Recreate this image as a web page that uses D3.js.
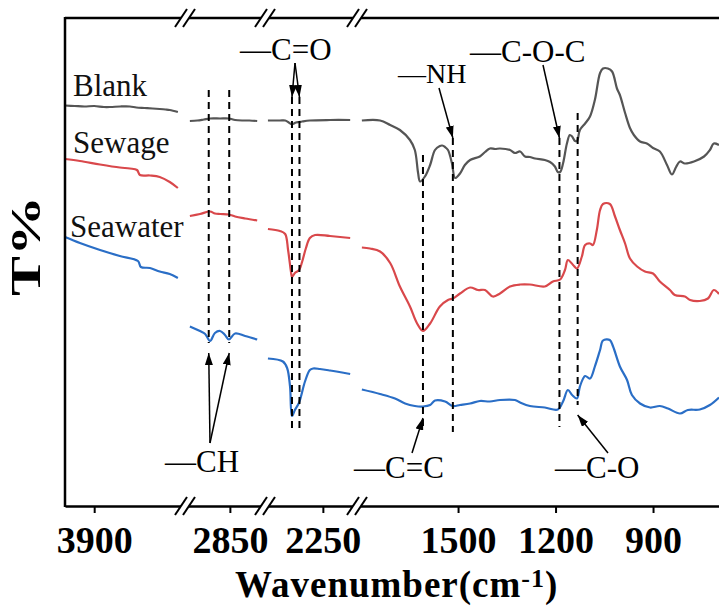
<!DOCTYPE html>
<html>
<head>
<meta charset="utf-8">
<script src="https://cdn.jsdelivr.net/npm/d3@7"></script>
<style>
body { margin: 0; background: #fff; }
svg { display: block; font-family: "Liberation Serif", "Times New Roman", serif; }
</style>
</head>
<body>
<svg id="chart" width="719" height="607"></svg>
<script>
// broken wavenumber axis (cm-1), one domain per piece
const segments = [[3990, 3620], [2988, 2742], [2428, 2145], [1811, 697]];
const tickValues = [3900, 2850, 2250, 1500, 1200, 900];
const seriesNames = ['Blank', 'Sewage', 'Seawater'];

// [wavenumber, T%] (curves are offset)
const blank = [
  [3990,80.1],[3960,80.0],[3930,79.9],[3900,80.0],[3870,79.8],[3850,79.8],[3820,79.9],[3790,79.9],[3770,79.7],[3745,79.6],[3720,79.5],[3698,79.4],[3680,79.3],[3667,79.2],[3642,78.8],
  [2973,77.0],[2950,77.1],[2930,77.3],[2911,77.5],[2880,77.5],[2853,77.5],[2834,77.2],[2810,77.1],[2790,77.1],[2766,77.0],
  [2419,77.1],[2382,77.1],[2366,77.1],[2357,76.8],[2348,76.4],[2342,76.4],[2333,76.7],[2323,76.8],[2314,76.9],[2290,77.1],[2228,77.2],[2166,77.2],
  [1796,77.1],[1740,77.1],[1709,76.2],[1679,75.2],[1648,73.2],[1633,71.2],[1623,66.6],[1617,64.9],[1602,65.9],[1586,68.2],[1571,71.2],[1556,72.0],[1549,72.1],[1540,71.8],[1531,71.2],[1519,68.6],[1509,65.6],[1494,66.5],[1479,68.2],[1463,69.2],[1433,69.9],[1417,70.8],[1402,71.5],[1386,71.4],[1371,71.5],[1340,71.2],[1325,70.6],[1309,70.9],[1294,69.9],[1279,69.8],[1263,69.5],[1233,69.2],[1217,68.8],[1202,67.9],[1193,66.8],[1186,66.8],[1177,68.5],[1165,72.5],[1156,74.2],[1149,73.9],[1140,73.0],[1134,73.0],[1125,75.2],[1109,76.5],[1094,77.9],[1079,81.2],[1063,86.6],[1054,87.5],[1039,87.5],[1026,86.9],[1011,83.5],[1002,82.2],[986,78.6],[971,75.6],[959,74.2],[940,72.9],[919,72.5],[900,71.6],[879,70.9],[857,68.2],[842,66.3],[829,67.8],[817,68.9],[802,68.5],[774,68.9],[743,69.9],[725,71.2],[713,72.5],[697,72.2]
];
const sewage = [
  [3990,69.4],[3944,69.0],[3882,68.3],[3821,67.7],[3790,67.5],[3768,67.2],[3759,66.2],[3728,66.1],[3698,65.8],[3667,64.8],[3642,63.6],
  [2973,58.0],[2942,58.4],[2911,58.9],[2896,58.5],[2880,58.4],[2853,58.3],[2834,57.9],[2803,57.5],[2766,57.1],
  [2419,55.4],[2382,55.0],[2366,54.4],[2357,51.2],[2348,46.8],[2345,45.8],[2336,46.6],[2323,47.2],[2314,48.8],[2302,51.6],[2290,53.6],[2274,54.2],[2228,54.0],[2166,53.6],
  [1796,51.7],[1771,51.5],[1740,50.9],[1709,48.6],[1679,43.9],[1648,39.9],[1626,36.5],[1608,35.0],[1586,36.5],[1556,39.9],[1531,41.2],[1516,41.5],[1494,42.5],[1463,43.7],[1439,43.2],[1417,43.2],[1393,41.9],[1371,42.5],[1340,43.9],[1309,44.3],[1279,44.3],[1233,43.9],[1208,44.9],[1186,45.3],[1171,47.2],[1162,49.2],[1146,48.2],[1134,47.5],[1119,49.9],[1109,52.2],[1094,52.5],[1085,52.2],[1073,55.2],[1063,59.2],[1054,60.4],[1033,60.4],[1017,57.9],[1002,55.2],[986,52.5],[971,49.5],[949,47.9],[925,46.9],[900,46.5],[879,44.9],[848,43.2],[833,42.2],[802,41.9],[786,41.2],[756,41.0],[731,41.5],[713,43.2],[697,42.4]
];
const seawater = [
  [3990,53.8],[3944,52.6],[3882,51.2],[3821,50.0],[3765,49.0],[3756,47.8],[3728,47.6],[3698,46.9],[3667,46.4],[3642,45.6],
  [2973,35.9],[2942,35.0],[2926,34.4],[2911,33.0],[2896,34.6],[2880,35.0],[2865,34.2],[2853,33.3],[2834,34.5],[2803,34.0],[2766,33.3],
  [2419,29.5],[2373,28.9],[2360,27.6],[2351,23.9],[2345,18.0],[2336,19.2],[2323,20.7],[2305,24.9],[2290,27.2],[2280,27.5],[2259,27.4],[2228,27.1],[2166,26.4],
  [1796,23.3],[1740,22.4],[1694,21.5],[1663,20.5],[1633,20.0],[1608,19.9],[1586,20.2],[1571,21.1],[1540,20.9],[1516,20.0],[1494,20.2],[1463,20.5],[1433,21.0],[1402,20.9],[1371,21.2],[1325,21.2],[1309,20.7],[1279,20.0],[1233,19.7],[1193,19.3],[1177,20.9],[1162,23.2],[1149,22.2],[1134,21.5],[1125,23.9],[1109,26.0],[1094,25.5],[1079,27.9],[1063,31.2],[1054,33.1],[1033,33.2],[1023,31.9],[1002,27.9],[980,25.2],[965,22.2],[940,20.5],[909,19.7],[879,20.0],[854,19.5],[817,18.5],[793,19.2],[756,19.3],[725,20.2],[697,21.7]
];

// marked bands: wavenumbers and dashed-line span in T%
const bandNames = ['CH', 'C=O', 'C=C', 'NH', 'C-O-C', 'C-O'];
const bandWn = [[2915, 2852], [2345, 2322], [1608], [1516], [1188], [1132]];
const bandSpan = [[83.2, 32.6], [81.8, 15.0], [70.2, 15.8], [73.6, 14.8], [73.6, 15.8], [78.6, 20.2]];

// layout
const W = 719, H = 607;
const plotTop = 18, plotBottom = 506, plotLeft = 65;
const cuts = [65, 185, 265, 357, 719];
const colors = ['#555555', '#d9484b', '#2a6ec6'];
const labelPos = [[73, 96], [73, 153], [70, 237]];
const notes = {
  'CH':    { x: 165, y: 472, size: 31, from: [210, 443], tip: 30.6 },
  'C=O':   { x: 240, y: 60,  size: 31, from: [295, 63],  tip: 81.8 },
  'C=C':   { x: 354, y: 478, size: 31, from: [412, 453], tip: 17.6 },
  'NH':    { x: 398, y: 83,  size: 28, from: [439, 88],  tip: 73.6 },
  'C-O-C': { x: 470, y: 62,  size: 31, from: [543, 65],  tip: 73.6 },
  'C-O':   { x: 555, y: 478, size: 31, from: [608, 453], tip: 18.2 }
};

const svg = d3.select('#chart');

const xs = segments.map((d, i) => d3.scaleLinear().domain(d).range([cuts[i], cuts[i + 1]]));
const segOf = w => segments.findIndex(d => w <= d[0] && w >= d[1]);
const x = w => xs[segOf(w)](w);
const y = d3.scaleLinear().domain([0, 97.6]).range([plotBottom, plotTop]);

// arrowhead
svg.append('defs').append('marker')
  .attr('id', 'head')
  .attr('markerUnits', 'userSpaceOnUse')
  .attr('markerWidth', 12).attr('markerHeight', 8)
  .attr('refX', 12).attr('refY', 4)
  .attr('orient', 'auto')
  .append('path').attr('d', 'M0,0L12,4L0,8Z').attr('fill', '#000');

// spectra, one path per axis piece
const line = d3.line()
  .x(d => x(d[0]))
  .y(d => y(d[1]))
  .curve(d3.curveCatmullRom.alpha(0.5));

[blank, sewage, seawater].forEach((data, k) => {
  const pieces = d3.groups(data, d => segOf(d[0]));
  pieces.forEach(p => {
    svg.append('path')
      .attr('d', line(p[1]))
      .attr('fill', 'none')
      .attr('stroke', colors[k])
      .attr('stroke-width', 2.2)
      .attr('stroke-linejoin', 'round');
  });
});

// series names
seriesNames.forEach((n, k) => {
  svg.append('text')
    .attr('x', labelPos[k][0]).attr('y', labelPos[k][1])
    .attr('font-size', 31)
    .attr('fill', '#111')
    .text(n);
});

// dashed band lines
bandNames.forEach((b, i) => {
  bandWn[i].forEach(w => {
    svg.append('line')
      .attr('x1', x(w)).attr('x2', x(w))
      .attr('y1', y(bandSpan[i][0])).attr('y2', y(bandSpan[i][1]))
      .attr('stroke', '#000')
      .attr('stroke-width', 2)
      .attr('stroke-dasharray', '7,5');
  });
});

// annotations
bandNames.forEach((b, i) => {
  const n = notes[b];
  svg.append('text')
    .attr('x', n.x).attr('y', n.y)
    .attr('font-size', n.size)
    .text('\u2014' + b);
  bandWn[i].forEach(w => {
    svg.append('line')
      .attr('x1', n.from[0]).attr('y1', n.from[1])
      .attr('x2', x(w)).attr('y2', y(n.tip))
      .attr('stroke', '#000')
      .attr('stroke-width', 1.5)
      .attr('marker-end', 'url(#head)');
  });
});

// frame
svg.append('line').attr('x1', plotLeft).attr('x2', plotLeft).attr('y1', plotTop - 1).attr('y2', plotBottom + 1)
  .attr('stroke', '#000').attr('stroke-width', 2.5);
svg.append('line').attr('x1', plotLeft).attr('x2', W).attr('y1', plotTop).attr('y2', plotTop)
  .attr('stroke', '#000').attr('stroke-width', 2.5);

// bottom axis pieces
xs.forEach((s, i) => {
  const g = svg.append('g')
    .attr('transform', `translate(0,${plotBottom})`)
    .call(d3.axisBottom(s)
      .tickValues(tickValues.filter(t => segOf(t) === i))
      .tickFormat(d3.format('d'))
      .tickSize(7).tickPadding(13).tickSizeOuter(0));
  g.select('.domain').attr('stroke-width', 2.5);
  g.selectAll('.tick line').attr('stroke-width', 2);
  g.selectAll('.tick text')
    .attr('font-family', '"Liberation Serif", "Times New Roman", serif')
    .attr('font-size', 38)
    .attr('font-weight', 'bold')
    .attr('fill', '#000');
});

// axis breaks
cuts.slice(1, 4).forEach(cx => {
  [plotTop, plotBottom].forEach(cy => {
    svg.append('rect')
      .attr('x', cx - 4).attr('y', cy - 3).attr('width', 8).attr('height', 6)
      .attr('fill', '#fff');
    [-4, 4].forEach(dx => {
      svg.append('line')
        .attr('x1', cx + dx - 6).attr('y1', cy + 9)
        .attr('x2', cx + dx + 6).attr('y2', cy - 9)
        .attr('stroke', '#000').attr('stroke-width', 2);
    });
  });
});

// axis titles
const xt = svg.append('text')
  .attr('x', 235).attr('y', 597)
  .attr('font-size', 37)
  .attr('font-weight', 'bold')
  .attr('letter-spacing', 1);
xt.append('tspan').text('Wavenumber(cm');
xt.append('tspan').attr('dy', -10).attr('font-size', 26).text('-1');
xt.append('tspan').attr('dy', 10).text(')');

svg.append('text')
  .attr('transform', 'translate(40,246) rotate(-90)')
  .attr('text-anchor', 'middle')
  .attr('font-size', 42)
  .attr('font-weight', 'bold')
  .attr('textLength', 100)
  .attr('lengthAdjust', 'spacingAndGlyphs')
  .text('T%');
</script>
</body>
</html>
